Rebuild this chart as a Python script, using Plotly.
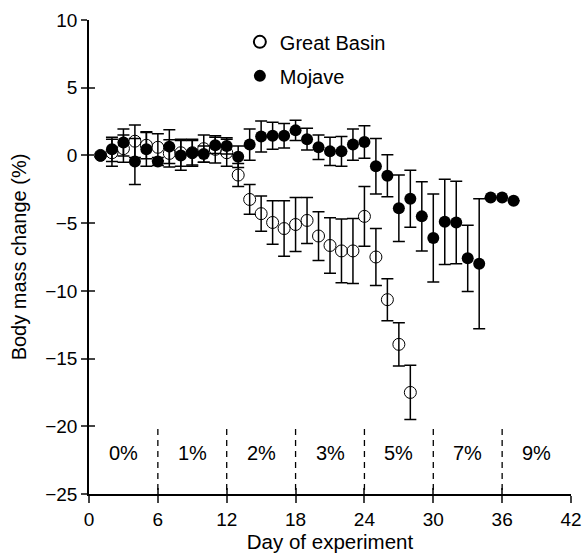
import plotly.graph_objects as go

days = list(range(1, 38))
# Mojave (filled)
mojave = [0.0, 0.45, 0.95, -0.45, 0.45, -0.45, 0.65, 0.0, 0.2, 0.1, 0.75, 0.7, -0.1,
          0.8, 1.4, 1.45, 1.45, 1.85, 1.2, 0.6, 0.3, 0.3, 0.8, 1.0, -0.8, -1.5,
          -3.9, -3.2, -4.5, -6.1, -4.9, -4.95, -7.6, -8.0, -3.1, -3.1, -3.35]
mojave_err = [0.0, 0.9, 1.0, 1.7, 1.25, 0.3, 1.25, 1.1, 0.9, 0.6, 0.6, 0.6, 0.8,
              1.15, 1.15, 1.0, 0.9, 0.75, 0.8, 0.9, 1.05, 1.1, 1.15, 1.2, 2.05, 1.55,
              2.45, 2.1, 2.55, 3.25, 3.15, 3.05, 2.45, 4.8, 0.0, 0.0, 0.0]
gb_days = list(range(1, 29))
great_basin = [0.0, 0.2, 0.5, 1.05, 0.75, 0.6, 0.15, 0.2, 0.2, 0.5, 0.45, 0.2, -1.45,
               -3.25, -4.3, -4.95, -5.4, -5.1, -4.8, -5.95, -6.65, -7.05, -7.05, -4.5,
               -7.5, -10.65, -13.95, -17.5]
great_basin_err = [0.0, 1.0, 1.0, 1.2, 1.0, 1.0, 1.0, 1.0, 1.0, 1.0, 1.0, 1.0, 0.85,
                   1.1, 1.3, 1.6, 2.05, 2.0, 1.7, 1.8, 2.05, 2.35, 2.4, 2.2,
                   2.1, 1.55, 1.6, 2.0]

phase_bounds = [0, 6, 12, 18, 24, 30, 36, 42]
phase_labels = ["0%", "1%", "2%", "3%", "5%", "7%", "9%"]
x_ticks = [0, 6, 12, 18, 24, 30, 36, 42]
y_ticks = [10, 5, 0, -5, -10, -15, -20, -25]
y_tick_text = ["10", "5", "0", "\u22125", "\u221210", "\u221215", "\u221220", "\u221225"]

FONT = "Liberation Sans, Arial, Helvetica, sans-serif"

fig = go.Figure()
fig.add_trace(go.Scatter(
    x=gb_days, y=great_basin, mode="markers", name="Great Basin",
    legendgroup="gb",
    marker=dict(symbol="circle-open", size=12, color="black", line=dict(width=1)),
    error_y=dict(type="data", array=great_basin_err, visible=True,
                 color="black", thickness=1.5, width=6),
))
fig.add_trace(go.Scatter(
    x=days, y=mojave, mode="markers", name="Mojave",
    legendgroup="mj",
    marker=dict(symbol="circle", size=12, color="black", line=dict(width=0)),
    error_y=dict(type="data", array=mojave_err, visible=True,
                 color="black", thickness=1.5, width=6),
))

shapes = []
for b in phase_bounds[1:-1]:
    shapes.append(dict(type="line", xref="x", yref="y", x0=b, x1=b, y0=-20.2, y1=-25,
                       line=dict(color="black", width=1.3, dash="6px,5px")))
annotations = []
for i, lab in enumerate(phase_labels):
    mid = (phase_bounds[i] + phase_bounds[i + 1]) / 2
    annotations.append(dict(x=mid, y=-22.0, xref="x", yref="y", text=lab,
                            showarrow=False, font=dict(size=20, color="black", family=FONT)))

fig.update_layout(
    width=583, height=554,
    margin=dict(l=89, r=12, t=20, b=60, autoexpand=False),
    plot_bgcolor="white", paper_bgcolor="white",
    font=dict(family=FONT, size=19, color="black"),
    shapes=shapes, annotations=annotations,
    showlegend=True,
    legend=dict(x=0.313, y=0.995, xanchor="left", yanchor="top",
                bgcolor="rgba(0,0,0,0)", font=dict(size=20, family=FONT),
                tracegroupgap=5, itemsizing="constant"),
    xaxis=dict(range=[0, 42], tickvals=x_ticks, ticks="outside", ticklen=7,
               tickwidth=1.5, showline=True, linecolor="black", linewidth=1.5,
               showgrid=False, zeroline=False, automargin=False,
               title=dict(text="Day of experiment", font=dict(size=20.5), standoff=5),
               tickfont=dict(size=19)),
    yaxis=dict(range=[-25, 10], tickvals=y_ticks, ticktext=y_tick_text,
               ticks="outside", ticklen=6, tickwidth=1.5, showline=True,
               linecolor="black", linewidth=1.5, showgrid=False, zeroline=False,
               automargin=False,
               title=dict(text="Body mass change (%)", font=dict(size=20), standoff=13),
               tickfont=dict(size=19)),
    xaxis2=dict(range=[0, 42], tickvals=x_ticks, ticks="inside", ticklen=6,
                tickwidth=1.5, showticklabels=False, showgrid=False, zeroline=False,
                overlaying="x", anchor="y", side="bottom"),
    yaxis2=dict(range=[-25, 10], tickvals=y_ticks, ticks="inside", ticklen=6,
                tickwidth=1.5, showticklabels=False, showgrid=False, zeroline=False,
                overlaying="y", anchor="x", side="left"),
)
# invisible trace to activate the crossing-tick axes
fig.add_trace(go.Scatter(x=[None], y=[None], xaxis="x2", yaxis="y2",
                         showlegend=False, hoverinfo="skip"))

# remove the default page margin so the 583x554 figure fills the window exactly
fig.write_html(
    "out.html",
    config=dict(displayModeBar=False),
    post_script="document.body.style.margin='0';document.body.style.overflow='hidden';",
)
